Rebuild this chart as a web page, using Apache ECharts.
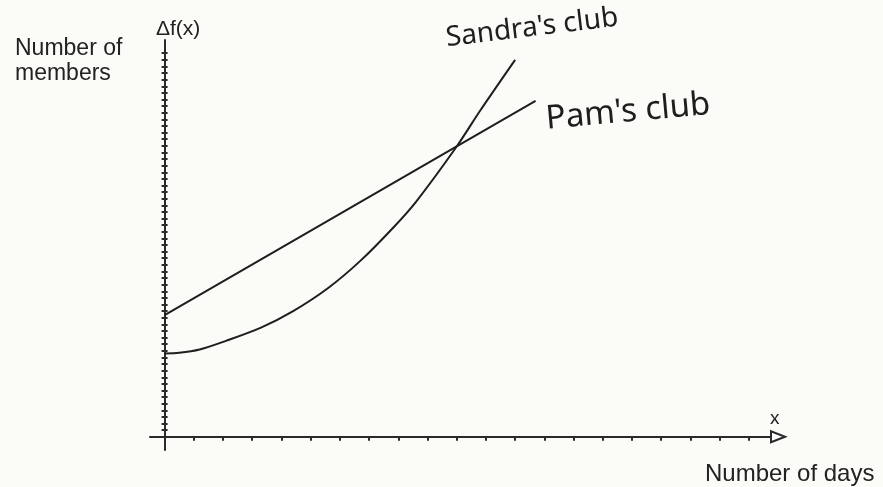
<!DOCTYPE html>
<html>
<head>
<meta charset="utf-8">
<script src="https://cdn.jsdelivr.net/npm/echarts@6/dist/echarts.min.js"></script>
<style>
  html, body { margin: 0; padding: 0; background: #fbfbf7; }
  #chart { width: 883px; height: 487px; }
</style>
</head>
<body>
<div id="chart"></div>
<script>
// ---- data (x in day ticks, y in member ticks) ----
const pamDays = [0, 10.0, 12.7];
const pamMembers = [18.4, 43.9, 50.8];

const sandraDays = [0, 0.5, 1.2, 2.1, 3.3, 4.4, 5.6, 6.7, 7.8, 8.6, 10.0, 10.8, 12.0];
const sandraMembers = [12.6, 12.7, 13.2, 14.5, 16.5, 19.0, 22.5, 26.6, 31.5, 35.5, 43.9, 49.3, 57.0];

const xTicks = [1, 2, 3, 4, 5, 6, 7, 8, 9, 10, 11, 12, 13, 14, 15, 16, 17, 18, 19, 20];
const yTicks = [1, 2, 3, 4, 5, 6, 7, 8, 9, 10, 11, 12, 13, 14, 15, 16, 17, 18, 19, 20,
  21, 22, 23, 24, 25, 26, 27, 28, 29, 30, 31, 32, 33, 34, 35, 36, 37, 38, 39, 40,
  41, 42, 43, 44, 45, 46, 47, 48, 49, 50, 51, 52, 53, 54, 55, 56, 57, 58];

const seriesNames = ["Pam's club", "Sandra's club"];

const ink = '#1e1e1e';
const zip = (xs, ys) => xs.map((x, i) => [x, ys[i]]);

const chart = echarts.init(document.getElementById('chart'), null, { renderer: 'canvas' });
chart.setOption({
  backgroundColor: '#fbfbf7',
  animation: false,
  grid: { left: 150, right: 105, top: 40, bottom: 37, containLabel: false, outerBoundsMode: 'none' },
  xAxis: [{
    type: 'value', min: -0.5, max: 21,
    axisLine: { onZero: true, lineStyle: { color: '#2a2a2a', width: 2 },
      symbol: ['none', 'emptyTriangle'], symbolSize: [11, 14] },
    axisTick: { show: true, customValues: xTicks, length: 4, lineStyle: { color: '#2a2a2a', width: 2 } },
    axisLabel: { show: false },
    splitLine: { show: false }
  }],
  yAxis: [{
    type: 'value', min: -2, max: 60, position: 'left',
    axisLine: { onZero: true, lineStyle: { color: '#2a2a2a', width: 2 } },
    axisTick: { show: true, customValues: yTicks, length: 3, lineStyle: { color: '#2a2a2a', width: 2 } },
    axisLabel: { show: false },
    splitLine: { show: false }
  }, {
    type: 'value', min: -2, max: 60, position: 'left', offset: -14.6,
    axisLine: { show: false, onZero: false },
    axisTick: { show: true, inside: true, customValues: yTicks, length: 3, lineStyle: { color: '#2a2a2a', width: 2 } },
    axisLabel: { show: false },
    splitLine: { show: false }
  }],
  series: [{
    name: seriesNames[0], type: 'line', showSymbol: false, silent: true,
    data: zip(pamDays, pamMembers),
    lineStyle: { color: ink, width: 2 }
  }, {
    name: seriesNames[1], type: 'line', showSymbol: false, silent: true,
    smooth: 0.3,
    data: zip(sandraDays, sandraMembers),
    lineStyle: { color: ink, width: 2, join: 'round' }
  }],
  graphic: [
    { type: 'text', left: 15, top: 37, style: { text: 'Number of', font: '23px "Liberation Sans", Arial, sans-serif', fill: '#222' } },
    { type: 'text', left: 15, top: 62, style: { text: 'members', font: '23px "Liberation Sans", Arial, sans-serif', fill: '#222' } },
    { type: 'text', left: 156, top: 19, style: { text: 'Δf(x)', font: '21px "Liberation Sans", Arial, sans-serif', fill: '#222' } },
    { type: 'text', left: 770, top: 409, style: { text: 'x', font: '19px "Liberation Sans", Arial, sans-serif', fill: '#222' } },
    { type: 'text', left: 705, top: 462, style: { text: 'Number of days', font: '24px "Liberation Sans", Arial, sans-serif', fill: '#222' } },
    { type: 'text', x: 532, y: 28, rotation: 0.12,
      style: { text: seriesNames[1], font: '28px "Noto Sans", sans-serif', fill: ink, align: 'center', verticalAlign: 'middle' } },
    { type: 'text', x: 628, y: 112, rotation: 0.09,
      style: { text: seriesNames[0], font: '33px "Noto Sans", sans-serif', fill: ink, align: 'center', verticalAlign: 'middle' } }
  ]
});
</script>
</body>
</html>
